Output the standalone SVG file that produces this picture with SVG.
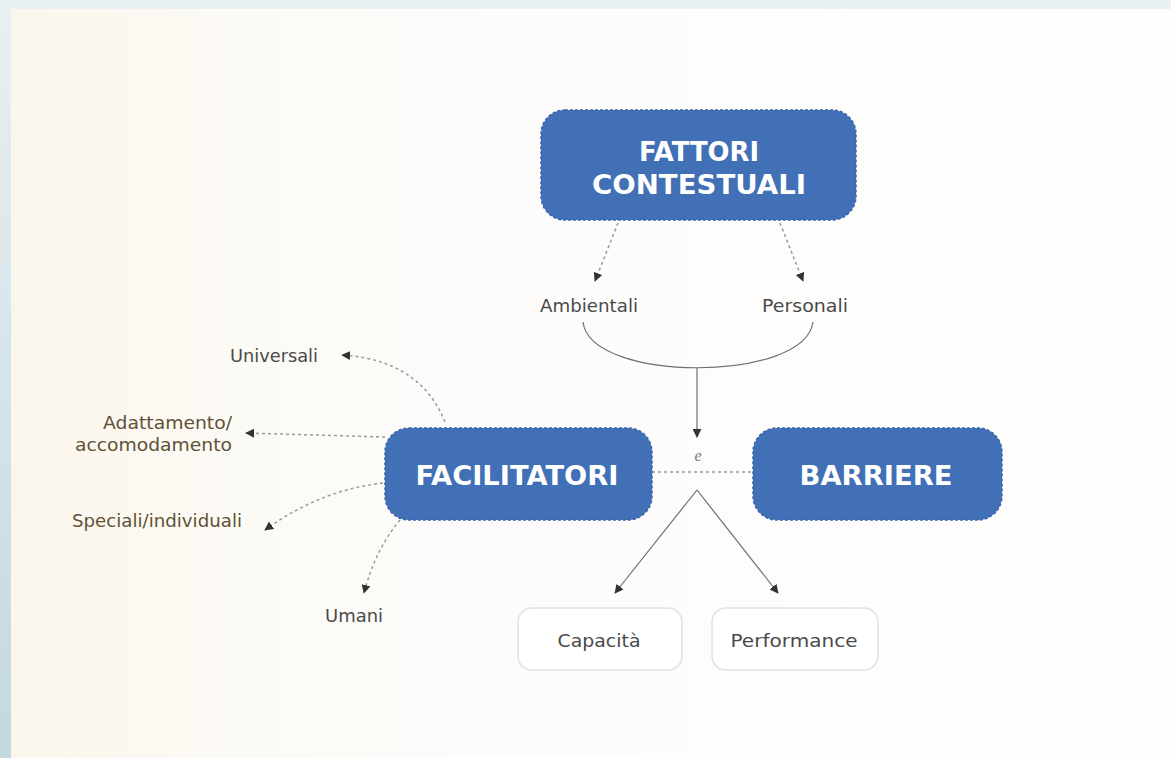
<svg xmlns="http://www.w3.org/2000/svg" width="1171" height="758" viewBox="0 0 1171 758">
  <defs>
    <linearGradient id="warm" x1="0" y1="0" x2="1" y2="0">
      <stop offset="0" stop-color="#fbf6ec"/>
      <stop offset="0.2" stop-color="#fcfaf5"/>
      <stop offset="0.4" stop-color="#fdfcfb"/>
      <stop offset="1" stop-color="#fefefd"/>
    </linearGradient>
    <linearGradient id="band" x1="0" y1="0" x2="0" y2="1">
      <stop offset="0" stop-color="#e8f0f3"/>
      <stop offset="1" stop-color="#c3d8df"/>
    </linearGradient>
    <marker id="ah" viewBox="0 0 10 10" refX="9" refY="5" markerWidth="9" markerHeight="9" markerUnits="userSpaceOnUse" orient="auto">
      <path d="M0,0 L10,5 L0,10 Z" fill="#333"/>
    </marker>
    <style>
      .blue rect { fill: #4170b7; stroke: #3a66ab; stroke-width: 1.5; stroke-dasharray: 3 2; }
      .blue text { fill: #ffffff; font-family: "DejaVu Sans", "Liberation Sans", sans-serif; font-weight: 700; text-anchor: middle; font-size: 27px; }
      .white rect { fill: #ffffff; stroke: #e2e2e2; stroke-width: 1.5; }
      .lbl { font-family: "DejaVu Sans", "Liberation Sans", sans-serif; font-size: 17px; fill: #4a4a4a; }
      .brown { fill: #5f5236; }
      .dash { fill: none; stroke: #9a9a9a; stroke-width: 1.5; stroke-dasharray: 3 3; }
      .solid { fill: none; stroke: #6f6f6f; stroke-width: 1.2; }
    </style>
  </defs>

  <rect x="0" y="0" width="1171" height="758" fill="url(#warm)"/>
  <rect x="0" y="0" width="1171" height="9" fill="#eaf1f4"/>
  <rect x="0" y="0" width="11" height="758" fill="url(#band)"/>

  <g id="connectors">
    <path class="dash" d="M618,223 L595,281" marker-end="url(#ah)"/>
    <path class="dash" d="M780,223 L803,281" marker-end="url(#ah)"/>
    <path class="solid" d="M583,322 C590,383 805,383 813,322"/>
    <path class="solid" d="M697,368 L697,437" marker-end="url(#ah)"/>
    <path class="dash" d="M652,472 L753,472"/>
    <path class="solid" d="M697,490 L615,593" marker-end="url(#ah)"/>
    <path class="solid" d="M697,490 L778,593" marker-end="url(#ah)"/>
    <path class="dash" d="M445,422 Q420,360 342,355" marker-end="url(#ah)"/>
    <path class="dash" d="M385,437 L246,433" marker-end="url(#ah)"/>
    <path class="dash" d="M383,483 Q320,490 265,530" marker-end="url(#ah)"/>
    <path class="dash" d="M400,520 Q375,550 364,593" marker-end="url(#ah)"/>
    <text x="698" y="461" font-family="Liberation Serif, serif" font-style="italic" font-size="16" fill="#777" text-anchor="middle">e</text>
  </g>

  <g id="fattori" class="blue">
    <rect x="541" y="110" width="315" height="110" rx="24"/>
    <text x="699" y="161" textLength="120" lengthAdjust="spacingAndGlyphs">FATTORI</text>
    <text x="699" y="194" textLength="214" lengthAdjust="spacingAndGlyphs">CONTESTUALI</text>
  </g>

  <g id="ambientali">
    <text class="lbl" x="589" y="312" text-anchor="middle" textLength="98" lengthAdjust="spacingAndGlyphs">Ambientali</text>
  </g>
  <g id="personali">
    <text class="lbl" x="805" y="312" text-anchor="middle" textLength="86" lengthAdjust="spacingAndGlyphs">Personali</text>
  </g>

  <g id="facilitatori" class="blue">
    <rect x="385" y="428" width="267" height="92" rx="24"/>
    <text x="517" y="485" textLength="203" lengthAdjust="spacingAndGlyphs">FACILITATORI</text>
  </g>

  <g id="barriere" class="blue">
    <rect x="753" y="428" width="249" height="92" rx="24"/>
    <text x="876" y="485" textLength="153" lengthAdjust="spacingAndGlyphs">BARRIERE</text>
  </g>

  <g id="capacita" class="white">
    <rect x="518" y="608" width="164" height="62" rx="14"/>
    <text class="lbl" x="599" y="647" text-anchor="middle" textLength="83" lengthAdjust="spacingAndGlyphs">Capacità</text>
  </g>
  <g id="performance" class="white">
    <rect x="712" y="608" width="166" height="62" rx="14"/>
    <text class="lbl" x="794" y="647" text-anchor="middle" textLength="127" lengthAdjust="spacingAndGlyphs">Performance</text>
  </g>

  <g id="universali">
    <text class="lbl" x="318" y="362" text-anchor="end" textLength="88" lengthAdjust="spacingAndGlyphs">Universali</text>
  </g>
  <g id="adattamento">
    <text class="lbl brown" x="232" y="429" text-anchor="end" textLength="129" lengthAdjust="spacingAndGlyphs">Adattamento/</text>
    <text class="lbl brown" x="232" y="451" text-anchor="end" textLength="157" lengthAdjust="spacingAndGlyphs">accomodamento</text>
  </g>
  <g id="speciali">
    <text class="lbl brown" x="242" y="527" text-anchor="end" textLength="170" lengthAdjust="spacingAndGlyphs">Speciali/individuali</text>
  </g>
  <g id="umani">
    <text class="lbl" x="354" y="622" text-anchor="middle" textLength="58" lengthAdjust="spacingAndGlyphs">Umani</text>
  </g>
</svg>
